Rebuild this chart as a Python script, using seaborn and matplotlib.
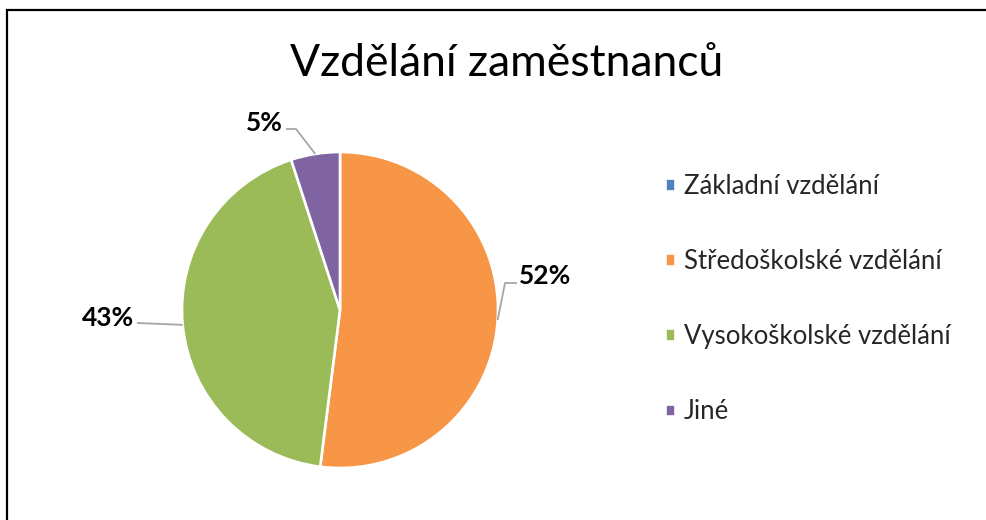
import matplotlib
matplotlib.use("Agg")
import matplotlib.pyplot as plt
import seaborn as sns
import numpy as np
from matplotlib.patches import Rectangle

# ---- data ----
categories = ["Základní vzdělání", "Středoškolské vzdělání", "Vysokoškolské vzdělání", "Jiné"]
values = [0, 52, 43, 5]
label_texts = ["", "52%", "43%", "5%"]
title = "Vzdělání zaměstnanců"
colors = ["#4F81BD", "#F79646", "#9BBB59", "#8064A2"]

sns.set_theme(style="white")
plt.rcParams['font.family'] = ['Lato', 'DejaVu Sans']

W, H = 986, 520
fig = plt.figure(figsize=(W / 100, H / 100), dpi=100)
ax = fig.add_axes([0, 0, 1, 1])

# pie geometry in pixels
cx, cy, R = 340, 310, 158

wedges, _ = ax.pie(values, colors=colors, startangle=90, counterclock=False,
                   radius=1, center=(0, 0), frame=True,
                   wedgeprops=dict(edgecolor='white', linewidth=1.9))
ax.set_xlim(-cx / R, (W - cx) / R)
ax.set_ylim(-(H - cy) / R, cy / R)
ax.set_aspect('equal')
ax.axis('off')

def px(x, y):
    return ((x - cx) / R, (cy - y) / R)

# label placement (pixel positions of label text / leader elbows)
label_layout = {
    1: dict(text=(519, 276), ha='left', elbow=[(505, 283), (517, 283)]),
    2: dict(text=(134, 318), ha='right', elbow=[(137, 323)]),
    3: dict(text=(283, 123), ha='right', elbow=[(296, 129), (286, 129)]),
}
for i, w in enumerate(wedges):
    if i not in label_layout:
        continue
    lay = label_layout[i]
    mid = np.deg2rad((w.theta1 + w.theta2) / 2)
    edge = (np.cos(mid), np.sin(mid))
    pts = [edge] + [px(*p) for p in lay['elbow']]
    xs, ys = zip(*pts)
    ax.plot(xs, ys, color='#A6A6A6', lw=1.3, solid_capstyle='butt')
    tx, ty = px(*lay['text'])
    ax.text(tx, ty, label_texts[i], ha=lay['ha'], va='center', fontsize=19,
            fontweight='bold', color='black')

fig.text(507 / W, 1 - 64 / H, title, ha='center', va='center', fontsize=32, color='black')

leg = ax.legend(wedges, categories, loc='center left',
                bbox_to_anchor=(665 / W, 1 - 299 / H), bbox_transform=fig.transFigure,
                frameon=False, fontsize=18.5, handlelength=0.39, handleheight=0.39,
                handletextpad=0.35, labelspacing=1.95, borderpad=0, borderaxespad=0)

fig.patches.append(Rectangle((7 / W, -0.1), 1.2, 1.1 - 10 / H, transform=fig.transFigure,
                             fill=False, edgecolor='black', lw=1.6, figure=fig))

fig.savefig("out.png", dpi=100)
